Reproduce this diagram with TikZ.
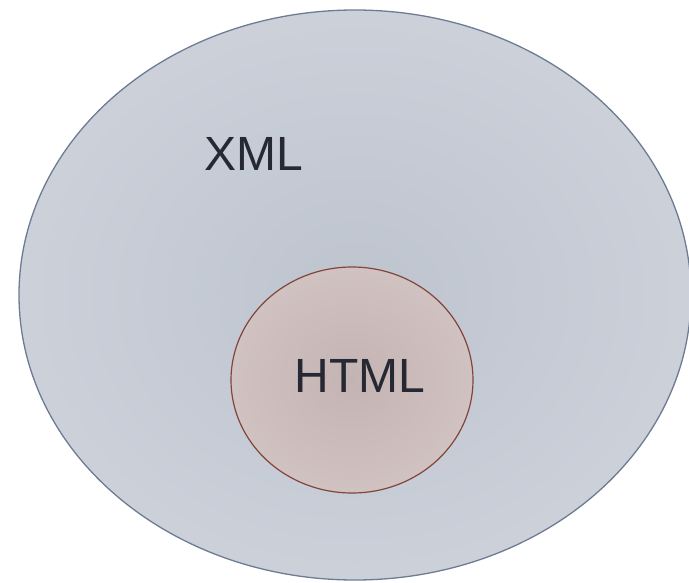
\documentclass[tikz,border=0pt]{standalone}
\usepackage{fontspec}
\setmainfont{Liberation Sans}
\definecolor{outerin}{HTML}{BEC4CE}
\definecolor{outermid}{HTML}{CDD2DB}
\definecolor{outerout}{HTML}{DADEE5}
\definecolor{outerline}{HTML}{6E7C92}
\definecolor{innerin}{HTML}{C4B3B3}
\definecolor{innermid}{HTML}{D2C4C3}
\definecolor{innerout}{HTML}{DFD3D1}
\definecolor{innerline}{HTML}{84443A}
\definecolor{labeltext}{HTML}{262833}
\pgfdeclareradialshading{outershade}{\pgfpoint{0bp}{0bp}}{color(0bp)=(outerin); color(28bp)=(outermid); color(50bp)=(outerout)}
\pgfdeclareradialshading{innershade}{\pgfpoint{0bp}{0bp}}{color(0bp)=(innerin); color(28bp)=(innermid); color(50bp)=(innerout)}
\tikzset{
  setlabel/.style={font=\fontsize{48}{58}\selectfont, text=labeltext, inner sep=0pt}
}
\begin{document}
\begin{tikzpicture}[x=1pt,y=-1pt]
  \useasboundingbox (0,0) rectangle (689,582);
  \clip (0,0) rectangle (689,582);
  % outer set
  \path[shading=outershade, draw=outerline, line width=1.3pt]
    (355,295) ellipse [x radius=336, y radius=285];
  % inner set
  \path[shading=innershade, draw=innerline, line width=1.2pt]
    (352,380) ellipse [x radius=121, y radius=113];
  \node[setlabel] (xml) at (254,154) {XML};
  \node[setlabel] (html) at (360,376) {HTML};
\end{tikzpicture}
\end{document}
